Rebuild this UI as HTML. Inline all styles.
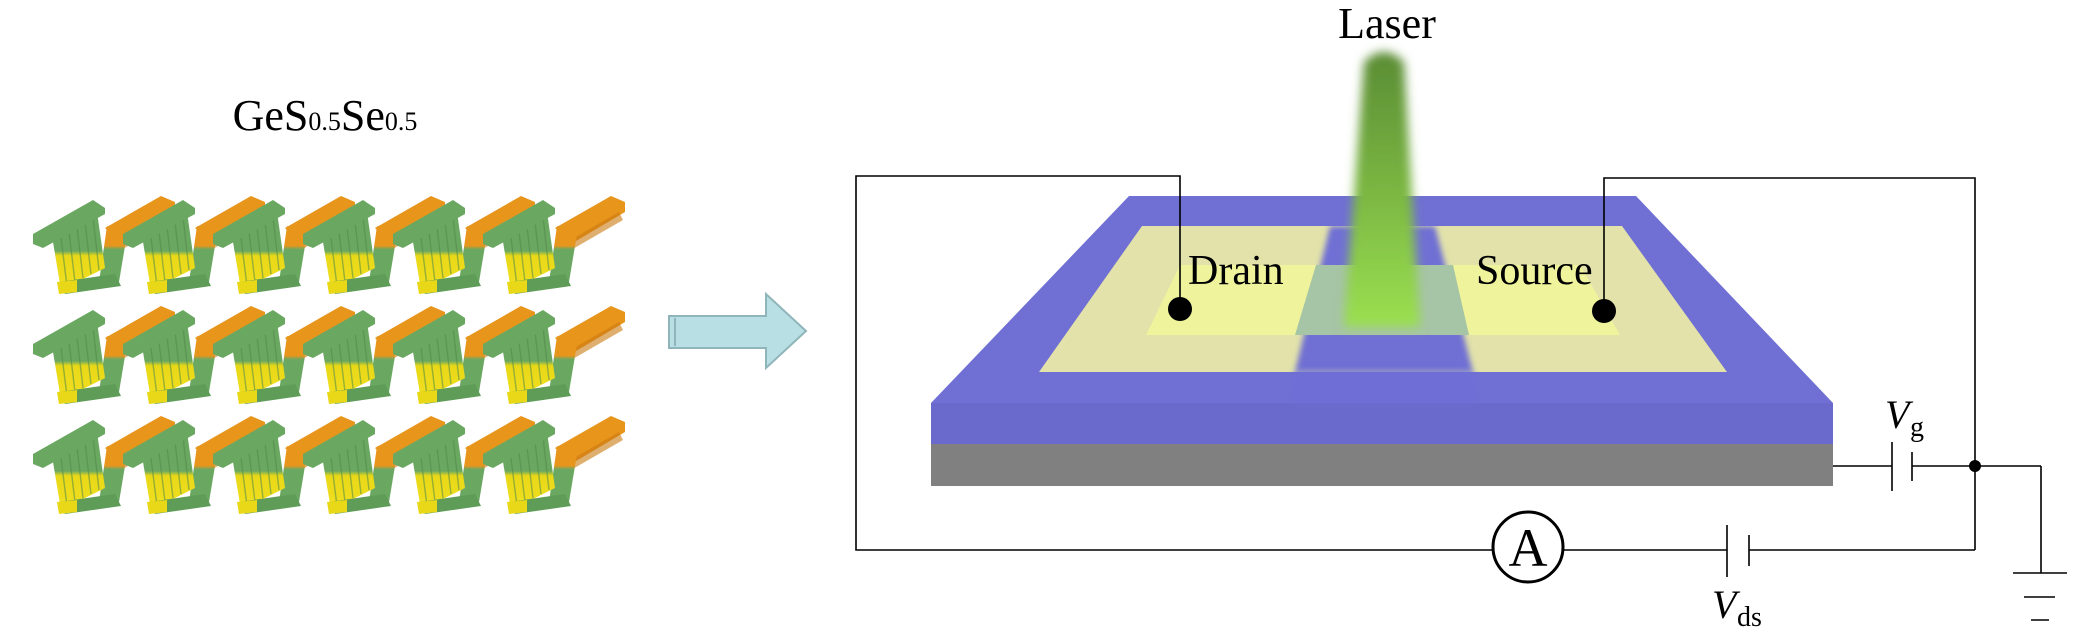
<!DOCTYPE html>
<html><head><meta charset="utf-8"><style>
html,body{margin:0;padding:0;background:#fff;}
svg{display:block;}
text{font-family:"Liberation Serif",serif;fill:#000;}
</style></head><body>
<svg width="2097" height="630" viewBox="0 0 2097 630" xmlns="http://www.w3.org/2000/svg">
<defs>
<linearGradient id="wall" x1="0" y1="0" x2="0" y2="1">
<stop offset="0" stop-color="#6aa862"/><stop offset="0.5" stop-color="#6aa862"/><stop offset="0.56" stop-color="#e8d818"/><stop offset="1" stop-color="#f2e020"/></linearGradient>
<linearGradient id="rwall" x1="0" y1="0" x2="0" y2="1">
<stop offset="0" stop-color="#e8951c"/><stop offset="0.35" stop-color="#e8951c"/><stop offset="0.42" stop-color="#6aa862"/><stop offset="1" stop-color="#6aa862"/></linearGradient>
<linearGradient id="beam" x1="0" y1="0" x2="0" y2="1">
<stop offset="0" stop-color="#5a8c34"/><stop offset="1" stop-color="#9be050"/></linearGradient>
<filter id="blur" x="-50%" y="-10%" width="200%" height="120%"><feGaussianBlur stdDeviation="5"/></filter>
<filter id="blur2" x="-20%" y="-20%" width="140%" height="140%"><feGaussianBlur stdDeviation="3"/></filter>
<g id="u">
<polygon points="72,42 128,10 142,16 142,26 88,58" fill="#e8951c"/>
<polygon points="84,56 136,26 140,34 88,64" fill="#c97a10" opacity="0.6"/>
<polygon points="66,96 86,96 94,48 74,40" fill="url(#rwall)"/>
<polygon points="20,56 64,26 72,82 28,104" fill="url(#wall)"/>
<g stroke="#4f8a48" stroke-width="1.4" opacity="0.55"><line x1="28" y1="52" x2="34" y2="100"/><line x1="36" y1="46" x2="42" y2="96"/><line x1="44" y1="41" x2="50" y2="92"/><line x1="52" y1="36" x2="58" y2="88"/><line x1="60" y1="31" x2="66" y2="84"/></g>
<polygon points="0,48 60,14 72,22 72,28 10,62 0,58" fill="#6aa862"/>
<polygon points="26,96 82,88 88,100 32,108" fill="#5e9c58"/>
<polygon points="24,96 44,94 44,106 26,108" fill="#e8d818"/>
</g>
</defs>

<text x="325" y="130" font-size="44" text-anchor="middle">GeS<tspan font-size="26">0.5</tspan>Se<tspan font-size="26">0.5</tspan></text>

<g>
<use href="#u" transform="translate(33,186)"/>
<use href="#u" transform="translate(123,186)"/>
<use href="#u" transform="translate(213,186)"/>
<use href="#u" transform="translate(303,186)"/>
<use href="#u" transform="translate(393,186)"/>
<use href="#u" transform="translate(483,186)"/>
<use href="#u" transform="translate(33,296)"/>
<use href="#u" transform="translate(123,296)"/>
<use href="#u" transform="translate(213,296)"/>
<use href="#u" transform="translate(303,296)"/>
<use href="#u" transform="translate(393,296)"/>
<use href="#u" transform="translate(483,296)"/>
<use href="#u" transform="translate(33,406)"/>
<use href="#u" transform="translate(123,406)"/>
<use href="#u" transform="translate(213,406)"/>
<use href="#u" transform="translate(303,406)"/>
<use href="#u" transform="translate(393,406)"/>
<use href="#u" transform="translate(483,406)"/>
</g>

<polygon points="669,316 766,316 766,294 806,331 766,368 766,348 669,348" fill="#b8dfe3" stroke="#8fb5ba" stroke-width="2"/>
<line x1="675" y1="318" x2="675" y2="346" stroke="#8fb5ba" stroke-width="2"/>

<!-- device -->
<polygon points="1129,196 1636,196 1833,403 931,403" fill="#6f6fd4"/>
<rect x="931" y="403" width="902" height="41" fill="#6a6acc"/>
<rect x="931" y="444" width="902" height="42" fill="#808080"/>
<polygon points="1142,226 1622,226 1727,372 1039,372" fill="#e2e2aa"/>
<polygon points="1330,226 1435,226 1473,372 1295,372" fill="#6f6fd4" filter="url(#blur2)"/>
<polygon points="1180,265 1580,265 1620,335 1146,335" fill="#eff39c"/>
<polygon points="1316,265 1453,265 1469,335 1295,335" fill="#a6c4a6"/>
<polygon points="1295,372 1473,372 1478,403 1290,403" fill="#6e6ed6" filter="url(#blur2)"/>
<path d="M1364,62 Q1384,42 1404,62 L1420,327 L1344,327 Z" fill="url(#beam)" filter="url(#blur)"/>

<text x="1387" y="38" font-size="44" text-anchor="middle">Laser</text>
<text x="1188" y="284" font-size="42">Drain</text>
<text x="1476" y="284" font-size="42">Source</text>

<g stroke="#000" stroke-width="1.6" fill="none">
<polyline points="1180,309 1180,176 856,176 856,550 1492,550"/>
<line x1="1564" y1="550" x2="1727" y2="550"/>
<line x1="1749" y1="550" x2="1975" y2="550"/>
<polyline points="1604,311 1604,178 1975,178 1975,550"/>
<line x1="1833" y1="466" x2="1892" y2="466"/>
<line x1="1912" y1="466" x2="2041" y2="466"/>
<line x1="2041" y1="466" x2="2041" y2="573"/>
<line x1="1892" y1="442" x2="1892" y2="491"/>
<line x1="1912" y1="452" x2="1912" y2="481"/>
<line x1="1727" y1="525" x2="1727" y2="577"/>
<line x1="1749" y1="535" x2="1749" y2="566"/>
<line x1="2013" y1="573" x2="2067" y2="573"/>
<line x1="2024" y1="597" x2="2055" y2="597"/>
<line x1="2031" y1="620" x2="2049" y2="620"/>
</g>
<circle cx="1528" cy="547" r="35" fill="#fff" stroke="#000" stroke-width="3"/>
<text x="1528" y="566" font-size="54" text-anchor="middle" font-family="Liberation Sans,sans-serif">A</text>
<ellipse cx="1180" cy="309" rx="12" ry="12" fill="#000"/>
<ellipse cx="1604" cy="311" rx="12" ry="12" fill="#000"/>
<circle cx="1975" cy="466" r="6" fill="#000"/>

<text x="1885" y="428" font-size="40" font-style="italic">V</text><text x="1910" y="436" font-size="28">g</text>
<text x="1712" y="618" font-size="40" font-style="italic">V</text><text x="1737" y="626" font-size="28">ds</text>
</svg>
</body></html>
